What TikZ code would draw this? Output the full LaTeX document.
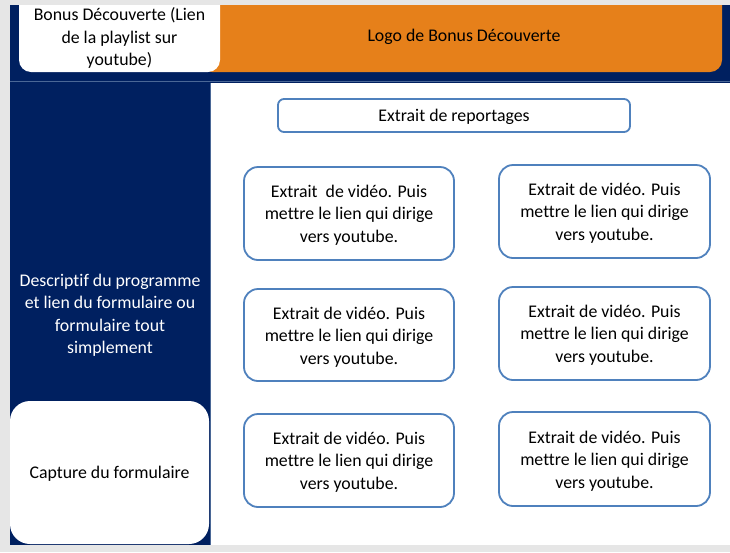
\documentclass[tikz,border=0pt]{standalone}
\usepackage{fontspec}
\setmainfont[Ligatures=NoCommon]{Carlito}
\definecolor{navy}{HTML}{002060}
\definecolor{orng}{HTML}{E6801A}
\definecolor{bordblue}{HTML}{4F81BD}
\definecolor{pagegray}{HTML}{E6E6E6}
\definecolor{sepblue}{HTML}{4A6796}
\begin{document}
\begin{tikzpicture}[x=1pt,y=-1pt,
  txt/.style={font=\fontsize{17.8}{22.5}\selectfont, align=center, inner sep=0pt},
  vidbox/.style={draw=bordblue, line width=1.8pt, fill=white, rounded corners=14pt},
  vidtxt/.style={txt}]
\useasboundingbox (0,0) rectangle (730,552);
\fill[pagegray] (0,0) rectangle (730,552);
% top bar
\fill[navy] (10,5) rectangle (730,83);
\draw[sepblue, line width=1.2pt] (10,81.5) -- (730,81.5);
% left column
\fill[navy] (10,83) rectangle (210,545);
\draw[sepblue, line width=1pt] (210,83) -- (210,545);
% content area
\fill[white] (211,83) rectangle (730,545);
% orange logo bar
\fill[orng, rounded corners=12pt] (200,-20) rectangle (722,72);
\fill[pagegray] (0,0) rectangle (730,5);
\node[txt] (logo) at (464,37) {Logo de Bonus Découverte};
% white playlist box
\fill[white, rounded corners=12pt] (19,-20) rectangle (220,72);
\fill[pagegray] (0,0) rectangle (730,5);
\node[txt] (playlist) at (119.5,38) {Bonus Découverte (Lien\\de la playlist sur\\youtube)};
% descriptif
\node[txt, text=white] (desc) at (110,315) {Descriptif du programme\\et lien du formulaire ou\\formulaire tout\\simplement};
% capture box
\fill[white, rounded corners=20pt] (10,401) rectangle (209,544);
\node[txt] (capture) at (109.5,474) {Capture du formulaire};
% reportages
\draw[bordblue, line width=1.8pt, rounded corners=6pt, fill=white] (278,99) rectangle (630,132);
\node[txt] (report) at (454,117) {Extrait de reportages};
% video boxes
\draw[vidbox] (244,167) rectangle (454,260);
\node[vidtxt] (v1) at (349,215) {Extrait~ de vidéo. Puis\\mettre le lien qui dirige\\vers youtube.};
\draw[vidbox] (499,165) rectangle (710,258);
\node[vidtxt] (v2) at (604.5,213) {Extrait de vidéo. Puis\\mettre le lien qui dirige\\vers youtube.};
\draw[vidbox] (244,289) rectangle (454,381);
\node[vidtxt] (v3) at (349,337) {Extrait de vidéo. Puis\\mettre le lien qui dirige\\vers youtube.};
\draw[vidbox] (499,287) rectangle (710,380);
\node[vidtxt] (v4) at (604.5,335) {Extrait de vidéo. Puis\\mettre le lien qui dirige\\vers youtube.};
\draw[vidbox] (244,414) rectangle (454,507);
\node[vidtxt] (v5) at (349,462) {Extrait de vidéo. Puis\\mettre le lien qui dirige\\vers youtube.};
\draw[vidbox] (499,412) rectangle (710,506);
\node[vidtxt] (v6) at (604.5,461) {Extrait de vidéo. Puis\\mettre le lien qui dirige\\vers youtube.};
\end{tikzpicture}
\end{document}
